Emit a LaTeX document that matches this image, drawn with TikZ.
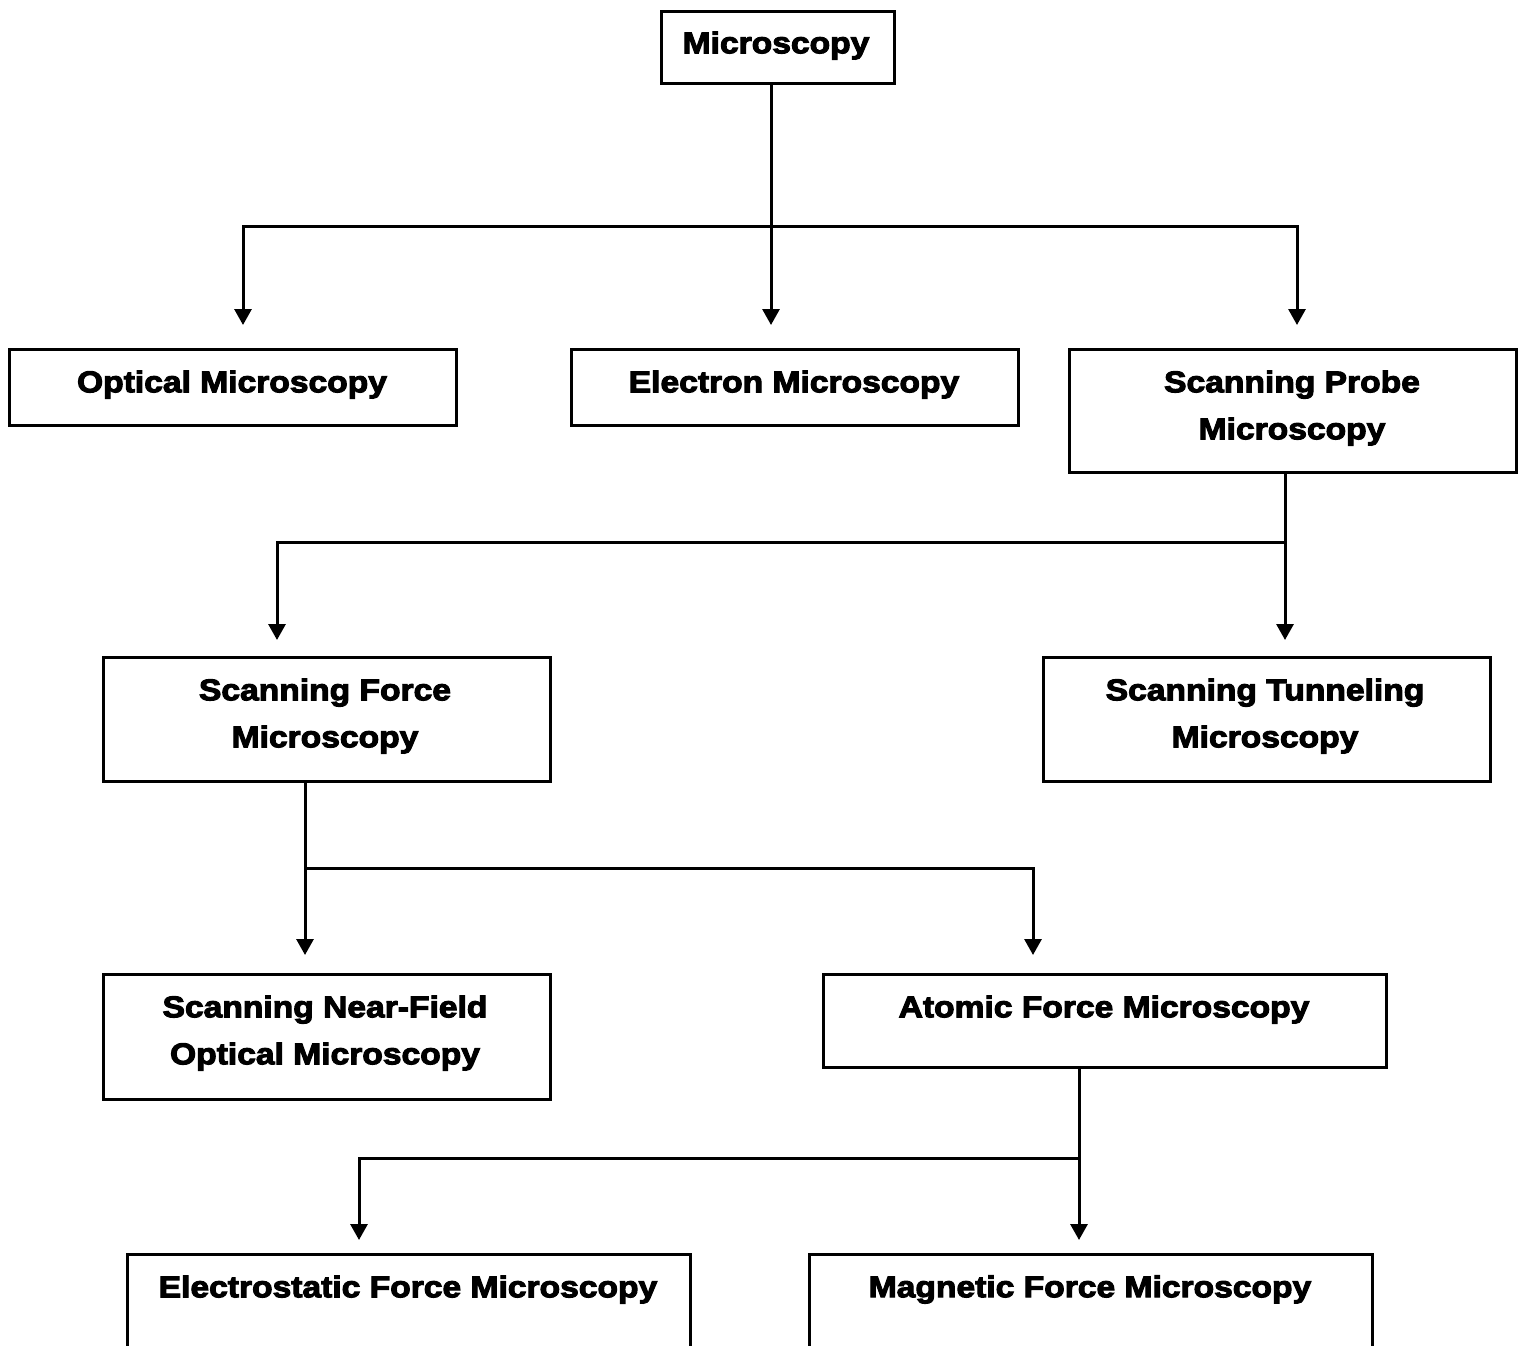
\documentclass[tikz,border=0pt]{standalone}
\usepackage{fontspec}
\newfontfamily\heavy{Liberation Sans}[FakeStretch=1.12, BoldFeatures={FakeBold=3.5}]
\usetikzlibrary{arrows.meta}
\begin{document}
\begin{tikzpicture}[x=1pt, y=-1pt,
  box/.style={draw, line width=2.5pt, anchor=north west, inner sep=0pt},
  lbl/.style={font=\heavy\bfseries\fontsize{30}{47}\selectfont, align=center, inner sep=0pt},
  wire/.style={line width=3pt, line cap=rect},
  arr/.style={wire, -{Triangle[width=17pt,length=16pt]}}]
\clip (0,0) rectangle (1522,1345);
\fill[white] (0,0) rectangle (1522,1345);

% boxes
\node[box, minimum width=233pt, minimum height=72pt]  (root) at (660,10)   {};
\node[box, minimum width=447pt, minimum height=76pt]  (opt)  at (8,348)    {};
\node[box, minimum width=447pt, minimum height=76pt]  (ele)  at (570,348)  {};
\node[box, minimum width=447pt, minimum height=123pt] (spm)  at (1068,348) {};
\node[box, minimum width=447pt, minimum height=124pt] (sfm)  at (102,656)  {};
\node[box, minimum width=447pt, minimum height=124pt] (stm)  at (1042,656) {};
\node[box, minimum width=447pt, minimum height=125pt] (snom) at (102,973)  {};
\node[box, minimum width=563pt, minimum height=93pt]  (afm)  at (822,973)  {};
\node[box, minimum width=563pt, minimum height=150pt] (efm)  at (126,1253) {};
\node[box, minimum width=563pt, minimum height=150pt] (mfm)  at (808,1253) {};

% labels
\node[lbl] (root-t) at (776,45.5)   {Microscopy};
\node[lbl] (opt-t)  at (232,384.5)  {Optical Microscopy};
\node[lbl] (ele-t)  at (794,384.5)  {Electron Microscopy};
\node[lbl] (spm-t)  at (1292,408)   {Scanning Probe\\Microscopy};
\node[lbl] (sfm-t)  at (325,716)    {Scanning Force\\Microscopy};
\node[lbl] (stm-t)  at (1265,716)   {Scanning Tunneling\\Microscopy};
\node[lbl] (snom-t) at (325,1033)   {Scanning Near-Field\\Optical Microscopy};
\node[lbl] (afm-t)  at (1104,1009.5){Atomic Force Microscopy};
\node[lbl] (efm-t)  at (408,1289.5) {Electrostatic Force Microscopy};
\node[lbl] (mfm-t)  at (1090,1289.5){Magnetic Force Microscopy};

% branch points
\coordinate (r1)  at (771,226);
\coordinate (r1L) at (243,226);
\coordinate (r1R) at (1297,226);
\coordinate (s1)  at (1285,542);
\coordinate (s1L) at (277,542);
\coordinate (f1)  at (305,868);
\coordinate (f1R) at (1033,868);
\coordinate (a1)  at (1079,1158);
\coordinate (a1L) at (359,1158);

% Microscopy -> first level
\draw[wire] (root.south -| r1) -- (r1);
\draw[wire] (r1L) -- (r1R);
\draw[arr, shorten >=23pt] (r1L) -- (r1L |- opt.north);
\draw[arr, shorten >=23pt] (r1)  -- (r1 |- ele.north);
\draw[arr, shorten >=23pt] (r1R) -- (r1R |- spm.north);

% Scanning Probe -> second level
\draw[wire] (spm.south -| s1) -- (s1);
\draw[wire] (s1L) -- (s1);
\draw[arr, shorten >=16pt] (s1L) -- (s1L |- sfm.north);
\draw[arr, shorten >=16pt] (s1)  -- (s1 |- stm.north);

% Scanning Force -> third level
\draw[wire] (sfm.south -| f1) -- (f1);
\draw[wire] (f1) -- (f1R);
\draw[arr, shorten >=18pt] (f1)  -- (f1 |- snom.north);
\draw[arr, shorten >=18pt] (f1R) -- (f1R |- afm.north);

% Atomic Force -> fourth level
\draw[wire] (afm.south -| a1) -- (a1);
\draw[wire] (a1L) -- (a1);
\draw[arr, shorten >=13pt] (a1L) -- (a1L |- efm.north);
\draw[arr, shorten >=13pt] (a1)  -- (a1 |- mfm.north);
\end{tikzpicture}
\end{document}
